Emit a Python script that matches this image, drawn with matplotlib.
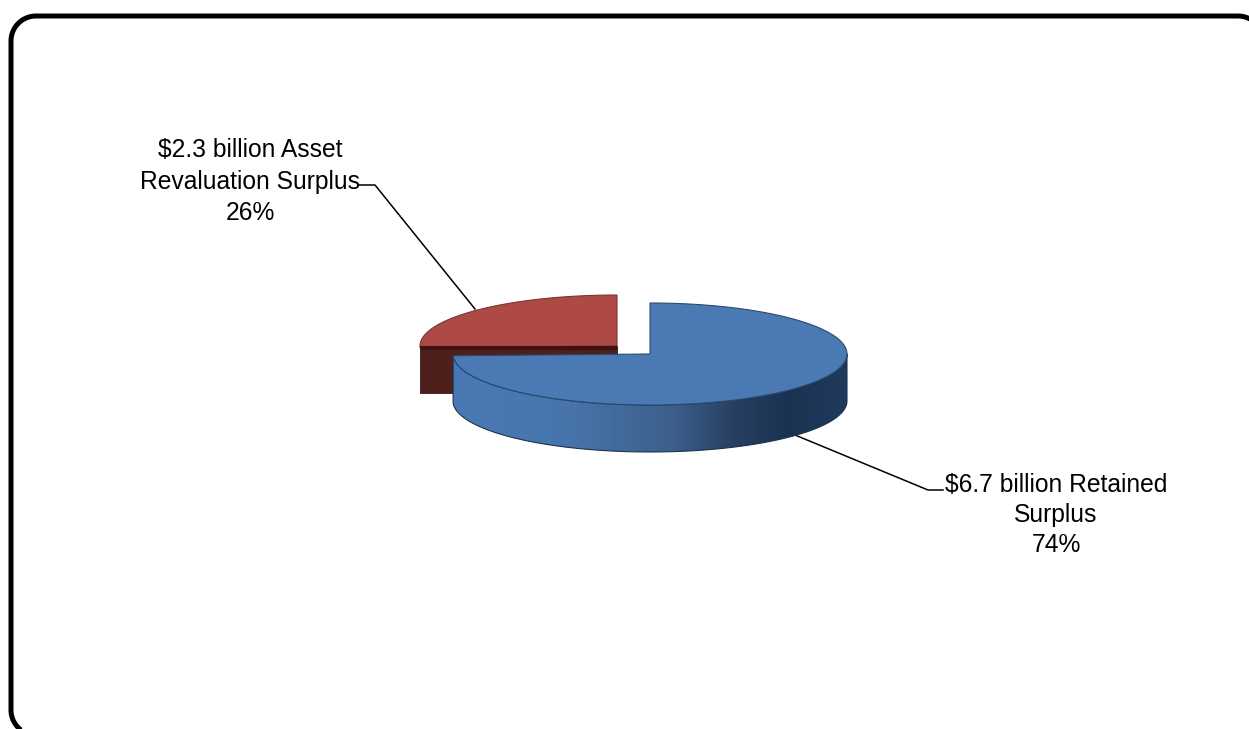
import numpy as np
import matplotlib.pyplot as plt
from matplotlib.colors import LinearSegmentedColormap
from matplotlib.patches import PathPatch, Polygon
from matplotlib.path import Path

plt.rcParams['font.family'] = ['Liberation Sans', 'DejaVu Sans']

# Surplus split, in billions
categories = ['Retained Surplus', 'Asset Revaluation Surplus']
amounts = [6.7, 2.3]
amount_labels = ['$6.7 billion Retained\nSurplus\n74%', '$2.3 billion Asset\nRevaluation Surplus\n26%']

# pie geometry in pixels
RX, RY, DEPTH = 197, 51, 47
BLUE_C = (650, 354)
RED_C = (617, 346)

blue_sweep = 360 * amounts[0] / sum(amounts)


def rim(center, start, stop, n=200):
    # points on the ellipse, angle clockwise from 12 o'clock
    t = np.radians(np.linspace(start, stop, n))
    return np.column_stack([center[0] + RX * np.sin(t), center[1] - RY * np.cos(t)])


def rounded_frame(x0, y0, x1, y1, r, n=30):
    # closed outline with circular corners
    pts = []
    corners = [(x1 - r, y0 + r, -90), (x1 - r, y1 - r, 0), (x0 + r, y1 - r, 90), (x0 + r, y0 + r, 180)]
    for cx, cy, a in corners:
        t = np.radians(np.linspace(a, a + 90, n))
        pts.append(np.column_stack([cx + r * np.cos(t), cy + r * np.sin(t)]))
    return np.vstack(pts)


fig = plt.figure(figsize=(12.49, 7.29), dpi=100)
ax = fig.add_axes([0, 0, 1, 1])
ax.axis('off')

# red slice: walls first, then the top
red_x0 = RED_C[0] - RX
ax.add_patch(Polygon([(red_x0, RED_C[1]), RED_C, (RED_C[0], RED_C[1] + DEPTH), (red_x0, RED_C[1] + DEPTH)],
                     closed=True, fc='#4f1f1b', ec='#3a1512', lw=0.6))
ax.plot([red_x0, RED_C[0]], [RED_C[1] + 2, RED_C[1] + 2], color='#3d1210', lw=3, solid_capstyle='butt')
red_top = np.vstack([[RED_C], rim(RED_C, blue_sweep, 360)])
ax.add_patch(Polygon(red_top, closed=True, fc='#ad4a45', ec='#7a3632', lw=0.8))

# blue slice: outer wall with a left-to-right shading
upper = rim(BLUE_C, 90, blue_sweep)
lower = upper[::-1] + [0, DEPTH]
wall = np.vstack([upper, lower])
clip = PathPatch(Path(np.vstack([wall, wall[:1]])), fc='none', ec='#1c3350', lw=0.8, zorder=3)
ax.add_patch(clip)
shade = LinearSegmentedColormap.from_list('wall', [(0, '#4a7ab5'), (0.3, '#4774ab'), (0.55, '#3d608c'),
                                                   (0.72, '#273f60'), (0.85, '#1b3352'), (1, '#1f3a5c')])
im = ax.imshow(np.linspace(0, 1, 256)[None, :], cmap=shade, aspect='auto', zorder=2,
               extent=(BLUE_C[0] - RX, BLUE_C[0] + RX, BLUE_C[1] + RY + DEPTH, BLUE_C[1] - RY))
im.set_clip_path(clip)

blue_top = np.vstack([[BLUE_C], rim(BLUE_C, 0, blue_sweep, 400)])
ax.add_patch(Polygon(blue_top, closed=True, fc='#4a79b3', ec='#2a4a70', lw=0.8, zorder=4))

# leader lines
ax.plot([359, 375, 475], [185, 185, 309], color='black', lw=1.1, zorder=1)
ax.plot([795, 928, 943], [435, 490, 490], color='black', lw=1.1, zorder=1)

ax.text(250, 181.5, amount_labels[1], ha='center', va='center', fontsize=17.7, linespacing=1.39, color='black')
ax.text(1056, 515, amount_labels[0], ha='center', va='center', fontsize=17.7, linespacing=1.3, color='black')

# rounded frame, runs off the right and bottom edges
ax.add_patch(Polygon(rounded_frame(11, 16, 1263, 735, 25), closed=True, fc='none', ec='black', lw=3.6, zorder=5))

ax.set_xlim(0, 1249)
ax.set_ylim(729, 0)

fig.savefig('out.png', dpi=100, facecolor='white')
